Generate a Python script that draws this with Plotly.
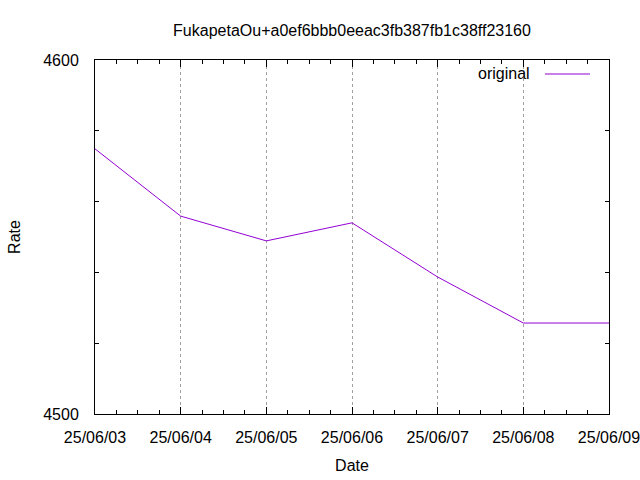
import plotly.graph_objects as go

dates = ["2025-06-03", "2025-06-04", "2025-06-05", "2025-06-06",
         "2025-06-07", "2025-06-08", "2025-06-09"]
rates = [4574.9, 4555.9, 4548.9, 4554.0, 4538.7, 4525.7, 4525.7]
series_name = "original"
title_text = "FukapetaOu+a0ef6bbb0eeac3fb387fb1c38ff23160"

FONT = "Liberation Sans"
FS = 16

fig = go.Figure()
fig.add_trace(go.Scatter(
    x=dates, y=rates, mode="lines", name=series_name,
    line=dict(color="#9400D3", width=1), showlegend=False,
))

fig.update_layout(
    width=640, height=480,
    margin=dict(l=95, r=31, t=60, b=66, autoexpand=False),
    paper_bgcolor="white", plot_bgcolor="white",
    font=dict(family=FONT, size=FS, color="black"),
    title=dict(text=title_text, x=352 / 640,
               xanchor="center", y=1 - 30 / 480, yanchor="middle",
               font=dict(family=FONT, size=FS)),
    showlegend=False,
)

fig.update_xaxes(
    type="date", range=["2025-06-03", "2025-06-09"],
    tickformat="%y/%m/%d", dtick=86400000, tick0="2025-06-03",
    ticks="inside", ticklen=7, tickcolor="black",
    showline=True, linecolor="black", linewidth=1, mirror="ticks",
    showgrid=True, gridcolor="#a0a0a0", griddash="dot", gridwidth=1,
    minor=dict(dtick=6 * 3600000, ticks="inside", ticklen=4,
               tickcolor="black", showgrid=False),
    ticklabelstandoff=9, automargin=False, ticklabeloverflow="allow",
    title=dict(text="Date", standoff=14, font=dict(family=FONT, size=FS)),
    zeroline=False,
)
fig.update_yaxes(
    range=[4500, 4600], dtick=100, tick0=4500,
    ticks="inside", ticklen=7, tickcolor="black",
    showline=True, linecolor="black", linewidth=1, mirror="ticks",
    showgrid=False,
    minor=dict(dtick=20, ticks="inside", ticklen=4, tickcolor="black",
               showgrid=False),
    ticklabelstandoff=12, automargin=False, ticklabeloverflow="allow",
    title=dict(text="Rate", standoff=18, font=dict(family=FONT, size=FS)),
    zeroline=False,
)

# gnuplot-style key: text right-aligned, sample line to its right
fig.add_annotation(text=series_name, xref="paper", yref="paper",
                   x=(532 - 95) / 514, y=1 - (74 - 60) / 354,
                   xanchor="right", yanchor="middle", showarrow=False,
                   font=dict(family=FONT, size=FS))
fig.add_shape(type="line", xref="paper", yref="paper",
              x0=(545 - 95) / 514, x1=(590 - 95) / 514,
              y0=1 - (74 - 60) / 354, y1=1 - (74 - 60) / 354,
              line=dict(color="#9400D3", width=1))

fig.write_html("out.html",
               config={"displayModeBar": False},
               post_script="document.body.style.margin='0';")
